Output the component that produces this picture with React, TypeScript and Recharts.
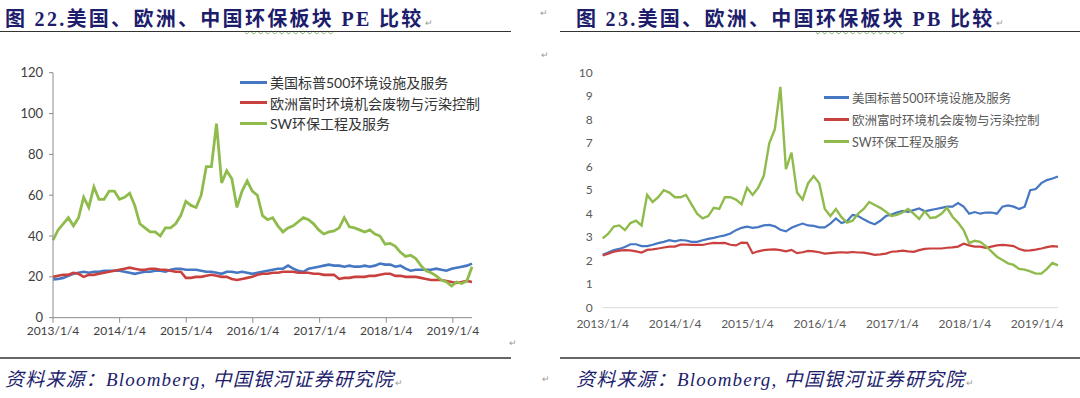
import React from "react";
import { LineChart, Line, XAxis, YAxis, Legend } from "recharts";

const xTickLabels = ["2013/1/4", "2014/1/4", "2015/1/4", "2016/1/4", "2017/1/4", "2018/1/4", "2019/1/4"];
const seriesNames = ["美国标普500环境设施及服务", "欧洲富时环境机会废物与污染控制", "SW环保工程及服务"];
const peTicks = [0, 20, 40, 60, 80, 100, 120];
const pbTicks = [0, 1, 2, 3, 4, 5, 6, 7, 8, 9, 10];

// readings every 4 weeks starting 2013/1/4
const usPE = [
  18.7, 19, 19.5, 20.5, 21.5, 22, 22.5, 22, 22.5, 22.5,
  23, 23, 23, 23, 22.5, 22, 21.5, 22, 22.5, 22.5,
  23, 23, 22.5, 23.5, 24, 24, 23.5, 23.5, 23.5, 23,
  22.5, 22.5, 22, 21.5, 22.5, 22.5, 22, 22.5, 22, 21.5,
  22, 22.5, 23, 23.5, 24, 24, 25.5, 24, 23, 22.5,
  24, 24.5, 25, 25.5, 26, 25.5, 25.5, 25, 25.5, 25,
  25, 25.5, 25, 25.5, 26.5, 26, 26, 25, 25.5, 24,
  23, 23.5, 23.5, 23.5, 23.5, 24, 23.5, 23, 24, 24.5,
  25, 25.5, 26.5,
];
const euPE = [
  20, 20.5, 21, 21, 22, 21.5, 20, 21, 21, 21.5,
  22, 22.5, 23, 23.5, 24, 24.5, 24, 23.5, 23.5, 24,
  24, 23.5, 23.5, 23, 22.5, 22.5, 19.5, 19.5, 20, 20,
  20.5, 21, 20.5, 20, 20, 19, 18.5, 19, 19.5, 20,
  21, 21.5, 21.5, 22, 22, 22.5, 22.5, 22.5, 22, 22,
  22, 21.5, 21.5, 21, 21, 21, 19, 19.5, 19.5, 20,
  20, 20, 20.5, 20.5, 21, 21.5, 21.5, 20.5, 20.5, 20,
  20, 20, 19.5, 19, 18.5, 18.5, 18.5, 18, 17.5, 17,
  17.5, 18, 17.5,
];
const swPE = [
  38, 43, 46, 49, 45, 49, 59, 54, 64, 58,
  58, 62, 62, 58, 59, 61, 55, 46, 44, 42,
  42, 40, 44, 44, 46, 50, 57, 55, 54, 60,
  74, 74, 95, 66, 72, 68, 54, 62, 67, 62,
  60, 50, 48, 49, 45, 42, 44, 45, 47, 49,
  48, 46, 43, 41, 42, 42.5, 44, 49, 44.5, 44,
  43, 42, 43, 41, 40, 36, 36.4, 35, 32, 30,
  30.6, 29, 25.5, 23, 22, 20.5, 18.4, 17.5, 15.5, 17.5,
  16.7, 18, 25,
];

const usPB = [
  2.25, 2.35, 2.45, 2.5, 2.58, 2.7, 2.7, 2.62, 2.62, 2.68,
  2.75, 2.8, 2.87, 2.82, 2.88, 2.86, 2.8, 2.8, 2.87, 2.93,
  2.97, 3.03, 3.08, 3.16, 3.3, 3.4, 3.45, 3.4, 3.43, 3.5,
  3.52, 3.46, 3.32, 3.25, 3.4, 3.5, 3.58, 3.5, 3.48, 3.42,
  3.42, 3.58, 3.8, 3.6, 3.68, 3.95, 3.9, 3.76, 3.64, 3.55,
  3.7, 3.9, 3.96, 4.05, 4.12, 4.08, 4.15, 4.22, 4.1, 4.15,
  4.2, 4.25, 4.3, 4.3, 4.45, 4.3, 4.0, 4.07, 4.0, 4.05,
  4.05, 4.0, 4.3, 4.35, 4.3, 4.2, 4.3, 5.0, 5.05, 5.3,
  5.43, 5.5, 5.58,
];
const euPB = [
  2.22, 2.3, 2.38, 2.43, 2.45, 2.44, 2.4, 2.35, 2.46, 2.48,
  2.52, 2.56, 2.6, 2.6, 2.68, 2.68, 2.67, 2.67, 2.67, 2.72,
  2.76, 2.75, 2.76, 2.68, 2.65, 2.77, 2.76, 2.32, 2.4, 2.45,
  2.47, 2.48, 2.45, 2.4, 2.46, 2.32, 2.36, 2.42, 2.4, 2.36,
  2.3, 2.32, 2.34, 2.36, 2.34, 2.37, 2.35, 2.34, 2.3, 2.25,
  2.27, 2.3, 2.38, 2.4, 2.43, 2.4, 2.38, 2.45, 2.5, 2.52,
  2.52, 2.52, 2.55, 2.57, 2.6, 2.72, 2.65, 2.6, 2.6, 2.55,
  2.6, 2.65, 2.67, 2.65, 2.62, 2.5, 2.43, 2.44, 2.47, 2.52,
  2.58, 2.62, 2.6,
];
const swPB = [
  2.95, 3.15, 3.45, 3.5, 3.3, 3.6, 3.7, 3.5, 4.8, 4.5,
  4.7, 5.0, 4.9, 4.7, 4.7, 4.8, 4.4, 4.0, 3.8, 3.9,
  4.25, 4.2, 4.7, 4.7, 4.6, 4.4, 5.1, 4.8, 5.1, 5.6,
  7.0, 7.6, 9.4, 5.9, 6.6, 4.9, 4.6, 5.3, 5.6, 5.3,
  4.2, 3.9, 4.2, 3.85, 3.62, 3.7, 4.0, 4.2, 4.5, 4.37,
  4.25, 4.08, 3.9, 3.95, 4.05, 4.2, 4.0, 3.78, 4.1, 3.82,
  3.85, 4.0, 4.25, 3.87, 3.62, 3.3, 2.75, 2.85, 2.8, 2.62,
  2.4, 2.17, 2.03, 1.89, 1.82, 1.65, 1.62, 1.55, 1.45, 1.45,
  1.65, 1.9, 1.8,
];

const BLUE = "#4677c2";
const RED = "#c9413f";
const GREEN = "#8fbb4c";
const NAVY = "#1d1d6c";
const axisFont = "Lato, 'Noto Sans CJK SC', sans-serif";
const cjkSerif = "'Liberation Serif', 'Noto Sans CJK SC', serif";

const DAY = 86400000;
const toTime = (s: string) => {
  const [y, m, d] = s.split("/").map(Number);
  return Date.UTC(y, m - 1, d);
};
const xTicks = xTickLabels.map(toTime);
const dates = usPE.map((_, i) => xTicks[0] + i * 28 * DAY);
const fmtDate = (t: number) => {
  const d = new Date(t);
  return `${d.getUTCFullYear()}/${d.getUTCMonth() + 1}/${d.getUTCDate()}`;
};

const peData = dates.map((t, i) => ({ t, us: usPE[i], eu: euPE[i], sw: swPE[i] }));
const pbData = dates.map((t, i) => ({ t, us: usPB[i], eu: euPB[i], sw: swPB[i] }));

function LegendRows(props: any) {
  const { payload, fontSize, rowH, lineW, color } = props;
  const items = [...(payload || [])].sort(
    (a: any, b: any) => seriesNames.indexOf(a.value) - seriesNames.indexOf(b.value)
  );
  return (
    <div style={{ fontSize, color, fontFamily: axisFont, whiteSpace: "nowrap" }}>
      {items.map((p: any) => (
        <div key={p.value} style={{ display: "flex", alignItems: "center", height: rowH }}>
          <span style={{ display: "inline-block", width: lineW, height: 3, background: p.color, marginRight: 3 }} />
          {p.value}
        </div>
      ))}
    </div>
  );
}

const mark: React.CSSProperties = { fontSize: 9, color: "#999", fontWeight: 400, fontStyle: "normal", marginLeft: 1 };

function Title({ left, no, kind }: { left: number; no: string; kind: string }) {
  return (
    <div
      style={{
        position: "absolute", left, top: 3, fontSize: 20, fontWeight: 700, color: NAVY,
        fontFamily: cjkSerif, letterSpacing: 2.3, whiteSpace: "nowrap",
      }}
    >
      图 {no}.美国、欧洲、中国
      <span style={{ textDecoration: "underline wavy #7fb56a", textDecorationThickness: 1, textUnderlineOffset: 4 }}>环保板块</span>
      {" "}{kind} 比较<span style={mark}>↵</span>
    </div>
  );
}

function Source({ left, top }: { left: number; top: number }) {
  return (
    <div
      style={{
        position: "absolute", left, top, fontSize: 19, fontStyle: "italic", color: NAVY,
        fontFamily: cjkSerif, letterSpacing: 1.2, whiteSpace: "nowrap",
      }}
    >
      资料来源：Bloomberg, 中国银河证券研究院<span style={mark}>↵</span>
    </div>
  );
}

const hline = (left: number, top: number, width: number, color: string, h: number) => (
  <div style={{ position: "absolute", left, top, width, height: 0, borderTop: `${h}px solid ${color}` }} />
);

export default function App() {
  return (
    <div style={{ position: "absolute", left: 0, top: 0, width: 1080, height: 398, background: "#fff", overflow: "hidden" }}>
      <Title left={5} no="22" kind="PE" />
      <Title left={576} no="23" kind="PB" />
      <div style={{ position: "absolute", left: 539, top: 8, ...mark }}>↵</div>
      <div style={{ position: "absolute", left: 540, top: 50, ...mark }}>↵</div>
      <div style={{ position: "absolute", left: 508, top: 338, ...mark }}>↵</div>
      <div style={{ position: "absolute", left: 541, top: 374, ...mark }}>↵</div>
      {hline(0, 31, 511, "#333", 1.5)}
      {hline(560, 31, 520, "#333", 1.5)}
      {hline(0, 357, 511, "#666", 2)}
      {hline(560, 357, 520, "#666", 2)}

      <div style={{ position: "absolute", left: 0, top: 60 }}>
        <LineChart width={500} height={290} data={peData} margin={{ top: 12.7, right: 28, bottom: 2.3, left: 0 }}>
          <XAxis
            dataKey="t" type="number" domain={[dates[0], dates[dates.length - 1]]} ticks={xTicks}
            tickFormatter={fmtDate} interval={0} height={30}
            axisLine={{ stroke: "#8c8c8c" }} tickLine={{ stroke: "#8c8c8c" }} tickSize={5} tickMargin={4}
            tick={{ fontSize: 12, fill: "#404040", fontFamily: axisFont }}
          />
          <YAxis
            domain={[0, 120]} ticks={peTicks} width={53} interval={0}
            axisLine={{ stroke: "#8c8c8c" }} tickLine={{ stroke: "#8c8c8c" }} tickSize={4} tickMargin={6}
            tick={{ fontSize: 13, fill: "#404040", fontFamily: axisFont }}
          />
          <Legend
            layout="vertical" align="center" verticalAlign="middle"
            wrapperStyle={{ left: 240, top: 12, width: "auto", height: "auto" }}
            content={(p: any) => <LegendRows {...p} fontSize={14} rowH={20.5} lineW={27} color="#333" />}
          />
          <Line dataKey="us" name={seriesNames[0]} stroke={BLUE} strokeWidth={2.6} dot={false} type="linear" isAnimationActive={false} />
          <Line dataKey="eu" name={seriesNames[1]} stroke={RED} strokeWidth={2.6} dot={false} type="linear" isAnimationActive={false} />
          <Line dataKey="sw" name={seriesNames[2]} stroke={GREEN} strokeWidth={2.8} dot={false} type="linear" isAnimationActive={false} />
        </LineChart>
      </div>

      <div style={{ position: "absolute", left: 540, top: 60 }}>
        <LineChart width={530} height={280} data={pbData} margin={{ top: 12.7, right: 12, bottom: 2.3, left: 0 }}>
          <XAxis
            dataKey="t" type="number" domain={[dates[0], dates[dates.length - 1]]} ticks={xTicks}
            tickFormatter={fmtDate} interval={0} height={30}
            axisLine={{ stroke: "#d9d9d9" }} tickLine={false} tickSize={0} tickMargin={12}
            tick={{ fontSize: 12, fill: "#595959", fontFamily: axisFont }}
          />
          <YAxis
            domain={[0, 10]} ticks={pbTicks} width={62.7} interval={0}
            axisLine={false} tickLine={false} tickSize={0} tickMargin={10}
            tick={{ fontSize: 12, fill: "#595959", fontFamily: axisFont }}
          />
          <Legend
            layout="vertical" align="center" verticalAlign="middle"
            wrapperStyle={{ left: 284, top: 26, width: "auto", height: "auto" }}
            content={(p: any) => <LegendRows {...p} fontSize={12.5} rowH={22} lineW={25} color="#595959" />}
          />
          <Line dataKey="us" name={seriesNames[0]} stroke={BLUE} strokeWidth={2.2} dot={false} type="linear" isAnimationActive={false} />
          <Line dataKey="eu" name={seriesNames[1]} stroke={RED} strokeWidth={2.2} dot={false} type="linear" isAnimationActive={false} />
          <Line dataKey="sw" name={seriesNames[2]} stroke={GREEN} strokeWidth={2.4} dot={false} type="linear" isAnimationActive={false} />
        </LineChart>
      </div>

      <Source left={5} top={364} />
      <Source left={576} top={364} />
    </div>
  );
}
